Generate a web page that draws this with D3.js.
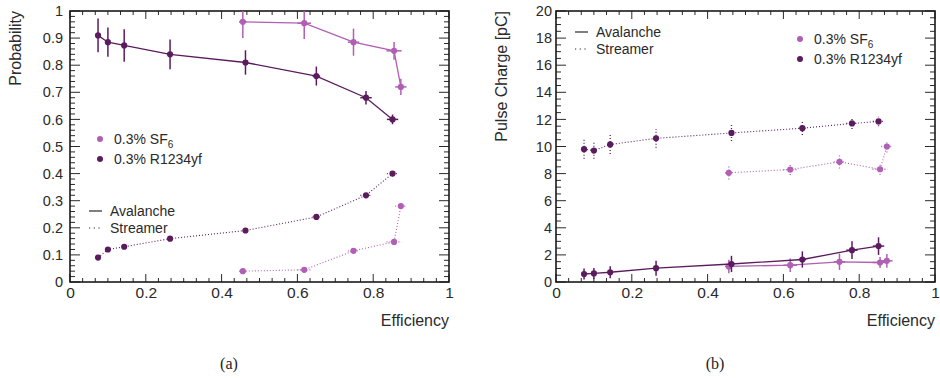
<!DOCTYPE html>
<html><head><meta charset="utf-8">
<script src="https://cdn.jsdelivr.net/npm/d3@7"></script>
<style>body{margin:0;background:#fff;} svg{display:block;}</style>
</head><body>
<svg id="c" width="940" height="378"></svg>
<script>
// ---- data ----
const effR = [0.074, 0.100, 0.143, 0.264, 0.463, 0.650, 0.781, 0.851];
const effRErr = [0.005, 0.005, 0.005, 0.006, 0.007, 0.01, 0.015, 0.015];
const effS = [0.456, 0.618, 0.748, 0.855, 0.873];
const effSErr = [0.01, 0.018, 0.015, 0.02, 0.015];

const probAvR = [0.91, 0.885, 0.873, 0.84, 0.81, 0.76, 0.68, 0.60];
const probAvRErr = [0.062, 0.054, 0.06, 0.055, 0.045, 0.035, 0.025, 0.018];
const probStR = [0.09, 0.12, 0.13, 0.16, 0.19, 0.24, 0.32, 0.40];
const probStRErr = [0.006, 0.006, 0.006, 0.007, 0.007, 0.008, 0.009, 0.01];
const probAvS = [0.96, 0.955, 0.885, 0.853, 0.72];
const probAvSErr = [0.06, 0.058, 0.05, 0.033, 0.03];
const probStS = [0.04, 0.045, 0.115, 0.148, 0.28];
const probStSErr = [0.005, 0.006, 0.007, 0.008, 0.01];

const chAvR = [0.59, 0.63, 0.72, 1.02, 1.33, 1.66, 2.35, 2.65];
const chAvRErr = [0.4, 0.4, 0.45, 0.55, 0.6, 0.6, 0.65, 0.65];
const chStR = [9.8, 9.7, 10.15, 10.6, 11.0, 11.35, 11.7, 11.85];
const chStRErr = [0.7, 0.6, 0.7, 0.7, 0.6, 0.5, 0.4, 0.35];
const chAvS = [1.15, 1.24, 1.49, 1.44, 1.56];
const chAvSErr = [0.5, 0.5, 0.6, 0.4, 0.5];
const chStS = [8.06, 8.3, 8.87, 8.32, 10.0];
const chStSErr = [0.5, 0.4, 0.5, 0.4, 0.45];

const xTicks = [0, 0.2, 0.4, 0.6, 0.8, 1];
const yTicksA = [0, 0.1, 0.2, 0.3, 0.4, 0.5, 0.6, 0.7, 0.8, 0.9, 1];
const yTicksB = [0, 2, 4, 6, 8, 10, 12, 14, 16, 18, 20];
const legendGas = ["0.3% SF", "0.3% R1234yf"];
const legendMode = ["Avalanche", "Streamer"];

const DARK = "#5b1c5e";
const LIGHT = "#b05fb4";
const TXT = "#2a2a2a";
const FONT = "'Liberation Sans', Arial, sans-serif";

const svg = d3.select("#c");
const defs = svg.append("defs");

function panel(opts) {
  const {id, left, right, top, bottom, yDomain, yTicks, yMinorStep, yPad, yTitle, caption, captionX, series} = opts;
  const x = d3.scaleLinear().domain([0, 1]).range([left, right]);
  const y = d3.scaleLinear().domain(yDomain).range([bottom, top]);
  const g = svg.append("g");

  defs.append("clipPath").attr("id", id).append("rect")
    .attr("x", left).attr("y", top).attr("width", right - left).attr("height", bottom - top);

  // minor ticks
  const xMinor = d3.range(0, 1.0001, 0.2 / 6);
  const yMinor = d3.range(yDomain[0], yDomain[1] + 1e-9, yMinorStep);
  const tk = g.append("g").attr("stroke", TXT).attr("stroke-width", 1);
  xMinor.forEach(v => {
    const major = xTicks.some(t => Math.abs(t - v) < 1e-6);
    const L = major ? 8 : 4;
    tk.append("line").attr("x1", x(v)).attr("x2", x(v)).attr("y1", bottom).attr("y2", bottom - L);
    tk.append("line").attr("x1", x(v)).attr("x2", x(v)).attr("y1", top).attr("y2", top + L);
  });
  yMinor.forEach(v => {
    const major = yTicks.some(t => Math.abs(t - v) < 1e-6);
    const L = major ? 10 : 5;
    tk.append("line").attr("x1", left).attr("x2", left + L).attr("y1", y(v)).attr("y2", y(v));
    tk.append("line").attr("x1", right).attr("x2", right - L).attr("y1", y(v)).attr("y2", y(v));
  });

  // axes labels via d3 axes
  const xAxis = d3.axisBottom(x).tickValues(xTicks).tickSize(0).tickPadding(5).tickFormat(d3.format("~g"));
  const xa = g.append("g").attr("transform", `translate(0,${bottom})`).call(xAxis);
  xa.select(".domain").remove();
  xa.selectAll("text").attr("font-family", FONT).attr("font-size", 15.5).attr("fill", TXT);

  const yAxis = d3.axisLeft(y).tickValues(yTicks).tickSize(0).tickPadding(yPad).tickFormat(d3.format("~g"));
  const ya = g.append("g").attr("transform", `translate(${left},0)`).call(yAxis);
  ya.select(".domain").remove();
  ya.selectAll("text").attr("font-family", FONT).attr("font-size", 14.5).attr("fill", TXT);

  // frame
  g.append("rect").attr("x", left).attr("y", top).attr("width", right - left).attr("height", bottom - top)
    .attr("fill", "none").attr("stroke", "#1a1a1a").attr("stroke-width", 1.6);

  // titles
  g.append("text").attr("x", right).attr("y", bottom + 44).attr("text-anchor", "end")
    .attr("font-family", FONT).attr("font-size", 16).attr("fill", TXT).text("Efficiency");
  g.append("text").attr("transform", `translate(${left - 49},${top}) rotate(-90)`).attr("text-anchor", "end")
    .attr("font-family", FONT).attr("font-size", 16).attr("fill", TXT).text(yTitle);
  g.append("text").attr("x", captionX).attr("y", 369).attr("text-anchor", "middle")
    .attr("font-family", "'Liberation Serif', 'Times New Roman', serif").attr("font-size", 16).attr("fill", "#222").text(caption);

  // series
  const data = g.append("g").attr("clip-path", `url(#${id})`);
  series.forEach(s => {
    const pts = s.xs.map((xv, i) => ({x: xv, y: s.ys[i], ex: s.exs[i], ey: s.eys[i]}));
    const sg = data.append("g");
    const dash = s.dotted ? "1,2" : null;
    const line = d3.line().x(d => x(d.x)).y(d => y(d.y));
    sg.append("path").datum(pts).attr("d", line).attr("fill", "none")
      .attr("stroke", s.color).attr("stroke-width", s.dotted ? 1.1 : 1.3).attr("stroke-dasharray", dash);
    const eb = sg.append("g").attr("stroke", s.color).attr("stroke-width", s.dotted ? 1.3 : 1.5).attr("stroke-dasharray", dash);
    pts.forEach(d => {
      eb.append("line").attr("x1", x(d.x)).attr("x2", x(d.x)).attr("y1", y(d.y - d.ey)).attr("y2", y(d.y + d.ey));
      eb.append("line").attr("x1", x(d.x - d.ex)).attr("x2", x(d.x + d.ex)).attr("y1", y(d.y)).attr("y2", y(d.y));
    });
    sg.selectAll("circle").data(pts).join("circle")
      .attr("cx", d => x(d.x)).attr("cy", d => y(d.y)).attr("r", 3.1).attr("fill", s.color);
  });

  return {x, y, g};
}

// panel (a)
panel({
  id: "clipA", left: 70, right: 449, top: 11, bottom: 282, yDomain: [0, 1], yTicks: yTicksA, yMinorStep: 0.02, yPad: 7,
  yTitle: "Probability", caption: "(a)", captionX: 229,
  series: [
    {xs: effS, exs: effSErr, ys: probAvS, eys: probAvSErr, color: LIGHT, dotted: false},
    {xs: effS, exs: effSErr, ys: probStS, eys: probStSErr, color: LIGHT, dotted: true},
    {xs: effR, exs: effRErr, ys: probAvR, eys: probAvRErr, color: DARK, dotted: false},
    {xs: effR, exs: effRErr, ys: probStR, eys: probStRErr, color: DARK, dotted: true}
  ]
});

// panel (b)
panel({
  id: "clipB", left: 556, right: 935, top: 11, bottom: 282, yDomain: [0, 20], yTicks: yTicksB, yMinorStep: 0.5, yPad: 4,
  yTitle: "Pulse Charge [pC]", caption: "(b)", captionX: 715,
  series: [
    {xs: effS, exs: effSErr, ys: chAvS, eys: chAvSErr, color: LIGHT, dotted: false},
    {xs: effS, exs: effSErr, ys: chStS, eys: chStSErr, color: LIGHT, dotted: true},
    {xs: effR, exs: effRErr, ys: chAvR, eys: chAvRErr, color: DARK, dotted: false},
    {xs: effR, exs: effRErr, ys: chStR, eys: chStRErr, color: DARK, dotted: true}
  ]
});

function gasLegend(mx, my0, dy) {
  const colors = [LIGHT, DARK];
  legendGas.forEach((t, i) => {
    const yy = my0 + i * dy;
    svg.append("circle").attr("cx", mx).attr("cy", yy).attr("r", 3).attr("fill", colors[i]);
    const tx = svg.append("text").attr("x", mx + 14).attr("y", yy + 5).attr("font-family", FONT)
      .attr("font-size", 14).attr("fill", TXT);
    tx.append("tspan").text(t);
    if (i === 0) tx.append("tspan").attr("dy", 4).attr("font-size", 10).text("6");
  });
}
function modeLegend(lx, ly0, dy) {
  legendMode.forEach((t, i) => {
    const yy = ly0 + i * dy;
    svg.append("line").attr("x1", lx).attr("x2", lx + 13).attr("y1", yy).attr("y2", yy)
      .attr("stroke", TXT).attr("stroke-width", 1.2).attr("stroke-dasharray", i === 1 ? "1.2,3.5" : null);
    svg.append("text").attr("x", lx + 21).attr("y", yy + 5).attr("font-family", FONT)
      .attr("font-size", 14).attr("fill", TXT).text(t);
  });
}
gasLegend(100, 139, 20);
modeLegend(89, 211, 17);
gasLegend(800, 39, 20);
modeLegend(575, 32, 17);
</script>
</body></html>
